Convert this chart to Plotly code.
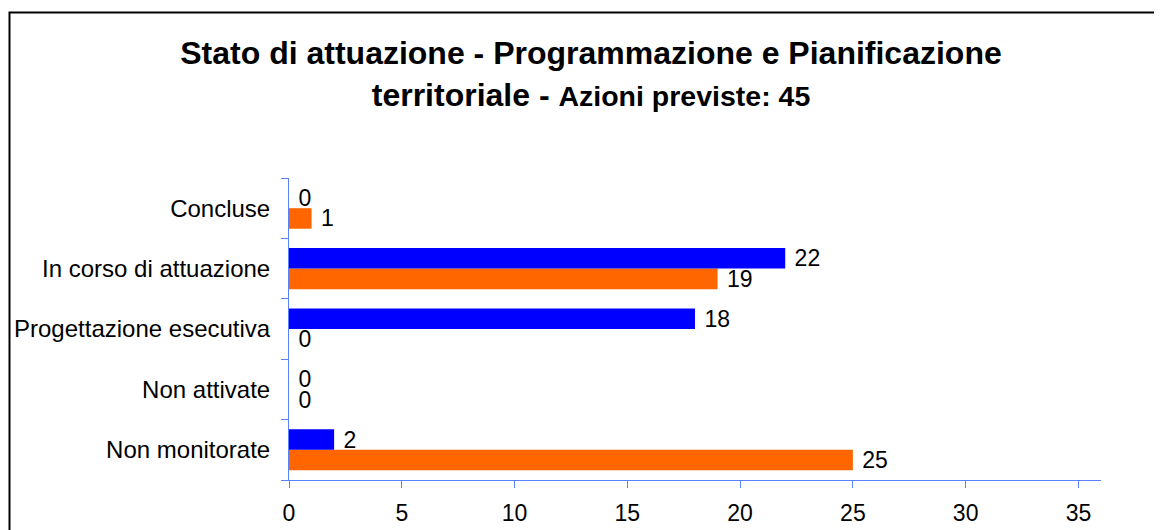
import plotly.graph_objects as go

# Data (categories listed bottom to top as drawn)
categories = ["Non monitorate", "Non attivate", "Progettazione esecutiva",
              "In corso di attuazione", "Concluse"]
blue_values = [2, 0, 18, 22, 0]
orange_values = [25, 0, 0, 19, 1]
x_ticks = [0, 5, 10, 15, 20, 25, 30, 35]

# page has an 8px body margin; work in figure pixels
W, H = 1154, 522
L, R, T, B = 281, 61, 170, 50
pw, ph = W - L - R, H - T - B

def px_x(p):
    return (p - L) / pw

def px_y(p):
    return (H - B - p) / ph

FONT = "Liberation Sans, Arial, sans-serif"
AXIS_COLOR = "#5a80ff"

fig = go.Figure()
fig.add_trace(go.Bar(
    y=categories, x=orange_values, orientation="h",
    marker=dict(color="#FF6600", line=dict(width=0)),
    texttemplate="\u00a0%{x}", textposition="outside", constraintext="none",
    textfont=dict(family=FONT, size=23, color="black"),
    cliponaxis=False, showlegend=False, name="B"))
fig.add_trace(go.Bar(
    y=categories, x=blue_values, orientation="h",
    marker=dict(color="#0000FF", line=dict(width=0)),
    texttemplate="\u00a0%{x}", textposition="outside", constraintext="none",
    textfont=dict(family=FONT, size=23, color="black"),
    cliponaxis=False, showlegend=False, name="A"))

fig.update_layout(
    width=W, height=H,
    margin=dict(l=L, r=R, t=T, b=B, pad=0, autoexpand=False),
    paper_bgcolor="white", plot_bgcolor="white",
    barmode="group", bargap=0.32, bargroupgap=0,
    font=dict(family=FONT, size=23, color="black"),
    title=dict(
        text="<b>Stato di attuazione - Programmazione e Pianificazione<br>"
             "territoriale - <span style='font-size:28.5px'>Azioni previste: 45</span></b>",
        font=dict(family=FONT, size=32, color="black"),
        xref="container", x=583 / W, xanchor="center",
        yref="container", y=1 - 56 / H, yanchor="top"),
    xaxis=dict(range=[0, 36], tickvals=x_ticks, showgrid=False, zeroline=False,
               showline=True, linecolor=AXIS_COLOR, linewidth=1,
               ticks="outside", ticklen=7, tickcolor=AXIS_COLOR,
               tickfont=dict(family=FONT, size=23, color="black"),
               ticklabelstandoff=5),
    yaxis=dict(categoryorder="array", categoryarray=categories,
               showgrid=False, zeroline=False,
               showline=True, linecolor=AXIS_COLOR, linewidth=1,
               ticks="outside", ticklen=7, tickcolor=AXIS_COLOR,
               tickson="boundaries",
               tickfont=dict(family=FONT, size=24, color="black"),
               ticklabelstandoff=13),
    shapes=[dict(type="rect", xref="paper", yref="paper",
                 x0=px_x(1.5), x1=px_x(1170), y0=px_y(540), y1=px_y(4.5),
                 line=dict(color="black", width=2), fillcolor="rgba(0,0,0,0)",
                 layer="below")],
)

fig.write_html("out.html")
